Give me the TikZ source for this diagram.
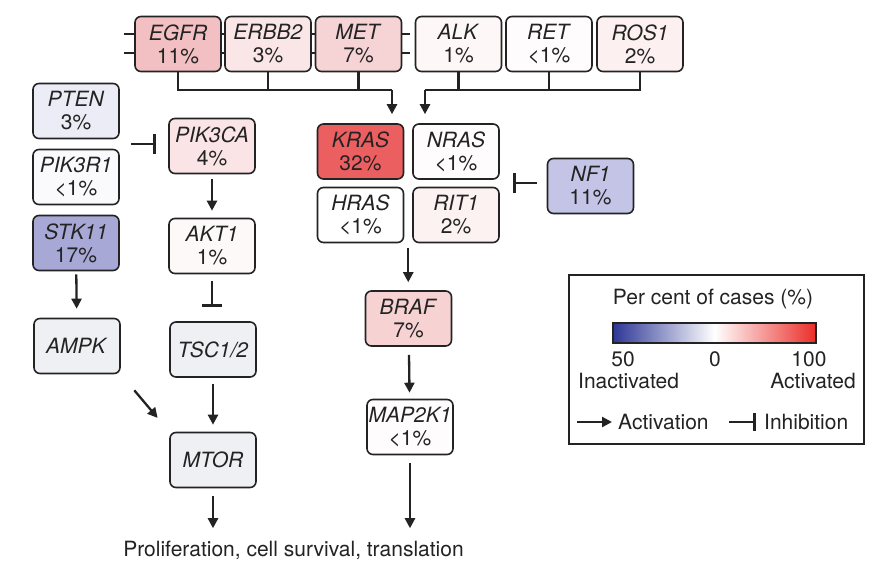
\documentclass[tikz,border=0pt]{standalone}
\usepackage{fontspec}
\setmainfont{TeX Gyre Heros}
\usetikzlibrary{arrows.meta,calc}
\definecolor{edge}{RGB}{35,35,35}
\definecolor{cEGFR}{RGB}{242,192,194}
\definecolor{cERBB}{RGB}{250,230,230}
\definecolor{cMET}{RGB}{246,212,213}
\definecolor{cALK}{RGB}{253,247,247}
\definecolor{cRET}{RGB}{254,252,252}
\definecolor{cROS}{RGB}{252,240,240}
\definecolor{cPTEN}{RGB}{236,236,246}
\definecolor{cPIKR}{RGB}{250,250,253}
\definecolor{cSTK}{RGB}{168,168,214}
\definecolor{cGrey}{RGB}{238,240,243}
\definecolor{cPIKCA}{RGB}{250,228,229}
\definecolor{cAKT}{RGB}{253,249,249}
\definecolor{cKRAS}{RGB}{236,95,97}
\definecolor{cRIT}{RGB}{252,242,242}
\definecolor{cNF}{RGB}{196,196,230}
\definecolor{cBRAF}{RGB}{246,210,211}
\definecolor{blueend}{RGB}{45,55,150}
\definecolor{redend}{RGB}{235,45,40}
\begin{document}
\begin{tikzpicture}[x=1pt,y=-1pt,
  every node/.style={font=\fontsize{21}{23}\selectfont, text=edge},
  gene/.style={draw=edge, line width=1.6pt, rounded corners=6pt, minimum width=86pt,
    minimum height=55pt, inner sep=1pt, align=center},
  conn/.style={draw=edge, line width=2.3pt},
  act/.style={conn, -{Triangle[length=10pt,width=10pt]}, shorten <=6pt, shorten >=7pt},
  inh/.style={conn, -{Bar[width=20pt,line width=2.8pt]}},
  tick/.style={draw=edge, line width=1.6pt}]
\path[use as bounding box, fill=white] (0,0) rectangle (880,564);

% receptors
\node[gene, fill=cEGFR] (EGFR) at (178,44) {\textit{EGFR}\\11\%};
\node[gene, fill=cERBB] (ERBB2) at (268,44) {\textit{ERBB2}\\3\%};
\node[gene, fill=cMET] (MET) at (358.5,44) {\textit{MET}\\7\%};
\node[gene, fill=cALK] (ALK) at (458.5,44) {\textit{ALK}\\1\%};
\node[gene, fill=cRET] (RET) at (549,44) {\textit{RET}\\<1\%};
\node[gene, fill=cROS] (ROS1) at (640,44) {\textit{ROS1}\\2\%};

% membrane ticks
\foreach \dy in {-10,9}{
  \draw[tick] ($(EGFR.west)+(-10,\dy)$) -- ($(EGFR.west)+(0,\dy)$);
  \draw[tick] ($(EGFR.east)+(0,\dy)$) -- ($(ERBB2.west)+(0,\dy)$);
  \draw[tick] ($(ERBB2.east)+(0,\dy)$) -- ($(MET.west)+(0,\dy)$);
  \draw[tick] ($(MET.east)+(0,\dy)$) -- ($(MET.east)+(8,\dy)$);
}

% left column
\node[gene, fill=cPTEN] (PTEN) at (76,111) {\textit{PTEN}\\3\%};
\node[gene, fill=cPIKR] (PIK3R1) at (76,177) {\textit{PIK3R1}\\<1\%};
\node[gene, fill=cSTK] (STK11) at (76,243) {\textit{STK11}\\17\%};
\node[gene, fill=cGrey] (AMPK) at (77,346) {\textit{AMPK}};

% PI3K column
\node[gene, fill=cPIKCA] (PIK3CA) at (212,146) {\textit{PIK3CA}\\4\%};
\node[gene, fill=cAKT] (AKT1) at (212,246) {\textit{AKT1}\\1\%};
\node[gene, fill=cGrey] (TSC) at (213,349.5) {\textit{TSC1/2}};
\node[gene, fill=cGrey] (MTOR) at (213,460) {\textit{MTOR}};

% RAS block
\node[gene, fill=cKRAS] (KRAS) at (360.5,151.5) {\textit{KRAS}\\32\%};
\node[gene, fill=cRET] (NRAS) at (456,151.5) {\textit{NRAS}\\<1\%};
\node[gene, fill=white] (HRAS) at (360.5,215) {\textit{HRAS}\\<1\%};
\node[gene, fill=cRIT] (RIT1) at (456,215) {\textit{RIT1}\\2\%};
\node[gene, fill=cNF] (NF1) at (590.5,186) {\textit{NF1}\\11\%};
\node[gene, fill=cBRAF] (BRAF) at (408.5,318.5) {\textit{BRAF}\\7\%};
\node[gene, fill=cRET] (MAP2K1) at (410,427) {\textit{MAP2K1}\\<1\%};

\node (out) at (293.5,550) {Proliferation, cell survival, translation};

% receptor brackets
\coordinate (j1) at (392,90);
\coordinate (j2) at (425,90);
\draw[conn] (EGFR.south) |- (j1);
\draw[conn] (ERBB2.south) -- (ERBB2.south |- j1);
\draw[conn] (MET.south) -- (MET.south |- j1);
\draw[act, shorten <=0pt, shorten >=9pt] (j1) -- (j1 |- KRAS.north);
\draw[conn] (ROS1.south) |- (j2);
\draw[conn] (ALK.south) -- (ALK.south |- j2);
\draw[conn] (RET.south) -- (RET.south |- j2);
\draw[act, shorten <=0pt, shorten >=9pt] (j2) -- (j2 |- NRAS.north);

% PI3K pathway
\coordinate (pp) at ($(PTEN.east)!0.5!(PIK3R1.east)$);
\draw[inh, shorten <=11pt, shorten >=12pt] (pp) -- (pp -| PIK3CA.west);
\draw[act, shorten <=5pt] (PIK3CA) -- (AKT1);
\draw[inh, shorten <=7pt, shorten >=14pt] (AKT1.south) -- (AKT1.south |- TSC.north);
\draw[act] (TSC) -- (MTOR);
\draw[act, shorten <=3pt, shorten >=9pt] (STK11) -- (AMPK);
\draw[act, shorten <=21pt, shorten >=18pt] (AMPK.south east) -- (MTOR.north west);
\draw[act, shorten <=8pt, shorten >=9pt] (MTOR.south) -- (MTOR.south |- out.north);

% RAS pathway
\coordinate (nr) at ($(NRAS.east)!0.5!(RIT1.east)$);
\draw[inh, shorten <=10pt, shorten >=13pt] (nr -| NF1.west) -- (nr);
\coordinate (rb) at ($(HRAS.south)!0.5!(RIT1.south)$);
\draw[act, shorten <=5pt, shorten >=8pt] (rb) -- (rb |- BRAF.north);
\draw[act, shorten <=8pt, shorten >=6pt] (BRAF) -- (MAP2K1);
\draw[act, shorten <=8pt, shorten >=9pt] (MAP2K1.south) -- (MAP2K1.south |- out.north);

% legend
\draw[draw=edge, line width=1.6pt] (569,275) rectangle (864,444);
\node (lt) at (713,299) {Per cent of cases (\%)};
\shade[left color=blueend, right color=white] (613,323) rectangle (714.5,343);
\shade[left color=white, right color=redend] (714.5,323) rectangle (816,343);
\draw[draw=edge, line width=1.2pt] (613,323) rectangle (816,343);
\node (l50) at (623,359) {50};
\node (l0) at (715,359) {0};
\node (l100) at (809,359) {100};
\node[anchor=west, inner sep=0pt] (lin) at (578,381) {Inactivated};
\node[anchor=east, inner sep=0pt] (lac) at (856,381) {Activated};
\coordinate (la) at (577,422);
\node[anchor=west, inner sep=0pt] (lact) at (618,422) {Activation};
\draw[conn, -{Triangle[length=10pt,width=10pt]}, shorten >=6pt] (la) -- (lact.west);
\coordinate (li) at (729,422);
\node[anchor=west, inner sep=0pt] (linh) at (764,422) {Inhibition};
\draw[conn, -{Bar[width=18pt,line width=2.8pt]}, shorten >=8pt] (li) -- (linh.west);
\end{tikzpicture}
\end{document}
